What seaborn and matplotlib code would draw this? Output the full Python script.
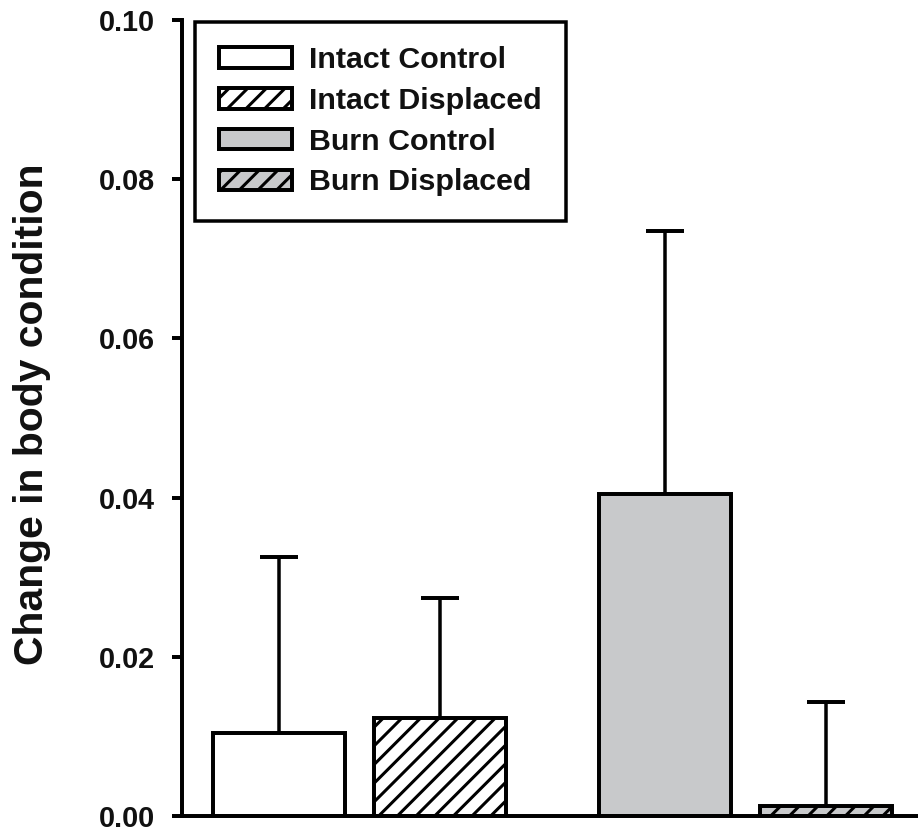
import matplotlib
matplotlib.use("Agg")
import matplotlib.pyplot as plt
import seaborn as sns
import pandas as pd
import numpy as np

# ---- data ----
habitat = ["Intact", "Intact", "Burn", "Burn"]
treatment = ["Control", "Displaced", "Control", "Displaced"]
labels = ["Intact Control", "Intact Displaced", "Burn Control", "Burn Displaced"]
means = [0.0104, 0.0123, 0.0405, 0.0013]
upper = [0.0325, 0.0274, 0.0735, 0.0143]
yticks = [0.00, 0.02, 0.04, 0.06, 0.08, 0.10]
ylabel = "Change in body condition"

# ---- style ----
face_colors = ["white", "white", "#c8c9cb", "#c8c9cb"]
hatches = ["", "///", "", "///"]

sns.set_style("white")
plt.rcParams["font.family"] = ["Liberation Sans", "DejaVu Sans"]
plt.rcParams["font.weight"] = "bold"
plt.rcParams["hatch.linewidth"] = 1.3
for k in ["text.color", "axes.labelcolor", "xtick.color", "ytick.color"]:
    plt.rcParams[k] = "#111111"

DPI = 168
fig = plt.figure(figsize=(918 / DPI, 832 / DPI), dpi=DPI)
ax = fig.add_axes([182 / 918, (832 - 816) / 832, 736 / 918, 796 / 832])

df = pd.DataFrame({"habitat": habitat, "treatment": treatment, "value": means})
sns.barplot(data=df, x="habitat", y="value", hue="treatment",
            order=["Intact", "Burn"], hue_order=["Control", "Displaced"],
            width=0.833, gap=0.18, errorbar=None, edgecolor="black",
            linewidth=1.7, legend=False, ax=ax, saturation=1)

bars = sorted([p for p in ax.patches], key=lambda p: p.get_x())
for p, fc, h in zip(bars, face_colors, hatches):
    p.set_facecolor(fc)
    p.set_hatch(h)
    p.set_edgecolor("black")
    p.set_linewidth(1.7)

xs = [p.get_x() + p.get_width() / 2 for p in bars]
err_hi = [u - m for u, m in zip(upper, means)]
eb = ax.errorbar(xs, means, yerr=[[0] * 4, err_hi], fmt="none", ecolor="black",
                 elinewidth=1.5, capsize=8.1, capthick=1.7, zorder=3)
for cl in eb[1]:
    yd = np.asarray(cl.get_ydata(), dtype=float)
    if np.allclose(yd, means):
        cl.set_visible(False)

ax.set_xlim(-0.459, 1.445)
ax.set_ylim(0, 0.10)
ax.set_yticks(yticks)
ax.set_yticklabels([f"{t:.2f}" for t in yticks], fontsize=12.3, fontweight="bold")
ax.set_xticks([])
ax.set_xlabel("")
ax.set_ylabel(ylabel, fontsize=17.5, fontweight="bold")
ax.yaxis.set_label_coords(-0.178, 0.505)
ax.tick_params(axis="y", direction="out", length=4.5, width=1.7, pad=7, color="black", left=True)

for s in ["top", "right"]:
    ax.spines[s].set_visible(False)
for s in ["left", "bottom"]:
    ax.spines[s].set_linewidth(1.7)
    ax.spines[s].set_color("black")

leg = ax.legend(bars, labels, loc="upper left", bbox_to_anchor=(0.0177, 0.9975),
                borderaxespad=0, frameon=True, fancybox=False, edgecolor="black",
                prop={"family": "Liberation Sans", "weight": "bold", "size": 13},
                handlelength=2.4, handleheight=0.66, handletextpad=0.55,
                labelspacing=0.42, borderpad=0.8)
leg.get_frame().set_linewidth(1.5)
leg.get_frame().set_alpha(1)

fig.savefig("out.png", dpi=DPI)
